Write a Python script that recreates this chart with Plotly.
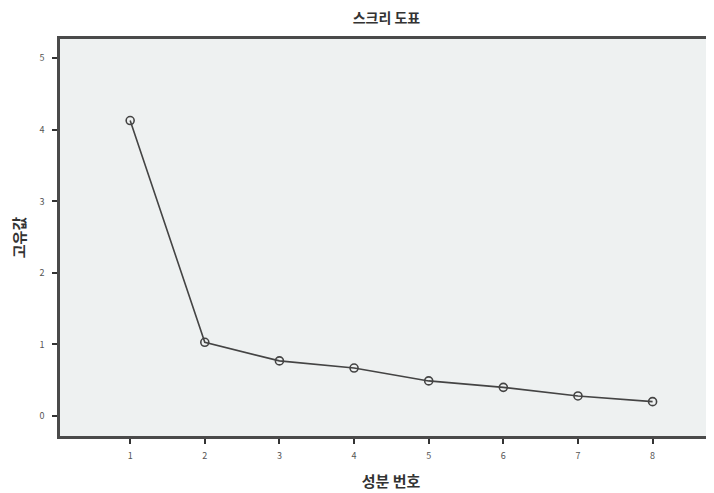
import plotly.graph_objects as go

components = [1, 2, 3, 4, 5, 6, 7, 8]
eigenvalues = [4.13, 1.03, 0.77, 0.67, 0.49, 0.40, 0.28, 0.20]
y_ticks = [0, 1, 2, 3, 4, 5]

font = "Noto Sans CJK KR"

fig = go.Figure()
fig.add_trace(go.Scatter(
    x=components, y=eigenvalues, mode="lines+markers",
    line=dict(color="#444", width=1.6),
    marker=dict(symbol="circle-open", size=8, color="#444", line=dict(width=1.6)),
    showlegend=False,
))
fig.update_layout(
    width=714, height=485,
    margin=dict(l=52, r=0, t=31, b=57),
    paper_bgcolor="white", plot_bgcolor="#eef1f1",
    title=dict(text="<b>스크리 도표</b>", x=0.53, xanchor="center", y=0.979, yanchor="middle",
               font=dict(family=font, size=14, color="#333")),
    font=dict(family=font),
)
fig.update_xaxes(
    range=[0.06, 8.93], tickvals=components, ticks="outside", ticklen=5, tickwidth=2,
    tickcolor="#333", showgrid=False, zeroline=False,
    showline=True, linecolor="#4a4a4a", linewidth=2.5, mirror=True,
    tickfont=dict(size=9, color="#555", family=font), ticklabelstandoff=4,
    title=dict(text="<b>성분 번호</b>", font=dict(size=15, color="#333", family=font), standoff=16),
)
fig.update_yaxes(
    range=[-0.28, 5.27], tickvals=y_ticks, ticks="outside", ticklen=5, tickwidth=2,
    tickcolor="#333", showgrid=False, zeroline=False,
    showline=True, linecolor="#4a4a4a", linewidth=2.5,
    tickfont=dict(size=9, color="#555", family=font), ticklabelstandoff=6,
    title=dict(text="<b>고유값</b>", font=dict(size=15, color="#333", family=font), standoff=14),
)
fig.write_html("out.html")
